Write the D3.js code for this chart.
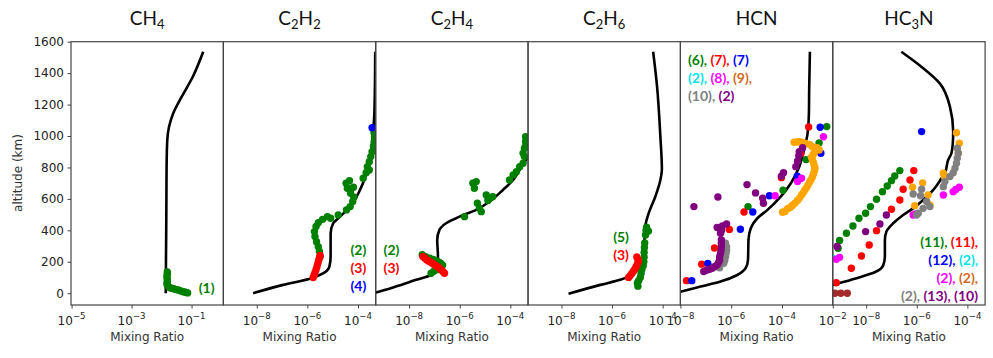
<!DOCTYPE html>
<html>
<head>
<meta charset="utf-8">
<script src="https://cdn.jsdelivr.net/npm/d3@7"></script>
<style>
  body { margin: 0; background: #fff; }
  svg { display: block; }
</style>
</head>
<body>
<svg id="chart" width="993" height="358"></svg>
<script>
// ---------- axis values ----------
const altLimits = [-75, 1600];
const altTicks = [0, 200, 400, 600, 800, 1000, 1200, 1400, 1600];
const ch4Limits = [10 ** -5.02, 10 ** 0.06];
const traceLimits = [10 ** -9.32, 10 ** -3.3];
const hcnLimits = [1e-8, 1e-2];
const ch4Ticks = [1e-5, 1e-3, 1e-1];
const traceTicks = [1e-8, 1e-6, 1e-4];
const hcnTicks = [1e-8, 1e-6, 1e-4, 1e-2];

// ---------- CH4 ----------  [mixing ratio, altitude km]
const ch4Model = [[0.0138,0],[0.0140,200],[0.0143,400],[0.0145,600],[0.0147,800],[0.0155,975],[0.0178,1060],[0.0245,1145],[0.047,1250],[0.11,1377],[0.245,1536]];
const ch4Obs1 = [[0.0155,135],[0.0155,120],[0.015,105],[0.0155,90],[0.0155,75],[0.015,60],[0.016,48],[0.018,38],[0.021,32],[0.025,28],[0.030,24],[0.036,20],[0.043,15],[0.050,11],[0.058,8],[0.066,5],[0.074,2]];

// ---------- C2H2 ----------
const c2h2Model = [[7.2e-9,0],[1.1e-7,53],[1.48e-6,95],[4.3e-6,127],[7.4e-6,169],[8.3e-6,233],[8.3e-6,382],[1.05e-5,445],[1.95e-5,487],[4.9e-5,551],[1.2e-4,657],[2.57e-4,805],[3.7e-4,975],[4.37e-4,1123],[4.57e-4,1229],[4.8e-4,1536]];
const c2h2Obs2 = [[3.2e-6,233],[3.0e-6,265],[2.7e-6,296],[2.3e-6,328],[2.0e-6,360],[1.9e-6,392],[2.2e-6,424],[2.7e-6,449],[4.0e-6,470],[6.2e-6,487],[8.3e-6,477],[1.66e-5,498],[3.5e-5,530],[4.9e-5,551],[6.2e-5,583],[6.9e-5,610],[5.1e-5,636],[3.8e-5,668],[3.4e-5,700],[4.6e-5,716],[6.6e-5,674],[1.6e-4,731],[2.1e-4,767],[2.8e-4,784],[2.35e-4,805],[2.8e-4,837],[3.2e-4,869],[3.6e-4,900],[4.1e-4,932],[4.4e-4,964],[4.5e-4,996],[4.3e-4,1020]];
const c2h2Obs3 = [[1.7e-6,100],[1.85e-6,115],[2.0e-6,130],[2.2e-6,150],[2.4e-6,170],[2.6e-6,190],[2.8e-6,210],[3.0e-6,225],[3.2e-6,240]];
const c2h2Obs4 = [[3.6e-4,1053]];

// ---------- C2H4 ----------
const c2h4Model = [[3.0e-10,-5],[4.9e-10,4],[3.0e-9,42],[1.9e-8,85],[7.4e-8,116],[1.38e-7,159],[1.38e-7,233],[1.29e-7,339],[1.58e-7,403],[2.9e-7,445],[9.8e-7,487],[4.5e-6,530],[1.5e-5,583],[5.1e-5,657],[1.29e-4,720],[2.3e-4,784],[5.0e-4,869],[7.9e-4,930]];
const c2h4Obs2 = [[3.3e-8,245],[4.5e-8,232],[6.5e-8,222],[9e-8,214],[1.2e-7,206],[1.5e-7,198],[1.8e-7,190],[2.1e-7,178],[7.4e-8,127],[9.5e-8,140],[1.3e-7,150],
  [1.55e-6,487],[3.3e-6,700],[4.5e-6,710],[3.8e-6,668],[5.0e-6,572],[6.0e-6,540],[7.1e-6,519],[1.12e-5,625],[1.5e-5,604],[2.0e-5,614],[1.3e-5,590],[9.3e-5,720],[1.29e-4,752],[1.74e-4,773],[2.34e-4,805],[3.2e-4,827],[3.6e-4,869],[3.2e-4,890],[3.6e-4,922],[4.1e-4,940],[4.0e-4,964],[4.0e-4,996]];
const c2h4Obs3 = [[3.5e-8,233],[4.2e-8,222],[5.0e-8,212],[6.0e-8,203],[7.5e-8,195],[9e-8,186],[1.1e-7,178],[1.35e-7,168],[1.6e-7,158],[1.9e-7,148],[2.2e-7,137],[2.5e-7,127]];

// ---------- C2H6 ----------
const c2h6Model = [[1.9e-8,-4],[3.4e-7,53],[2.1e-6,85],[5.2e-6,110],[1.12e-5,159],[1.78e-5,254],[2.04e-5,424],[2.8e-5,509],[5.1e-5,614],[8.1e-5,720],[9.3e-5,790],[8.1e-5,996],[6.0e-5,1314],[4.2e-5,1536]];
const c2h6Obs5 = [[1.05e-5,45],[1.0e-5,65],[1.12e-5,80],[1.3e-5,100],[1.4e-5,125],[1.5e-5,150],[1.7e-5,175],[1.8e-5,200],[1.85e-5,230],[1.85e-5,260],[1.9e-5,290],[1.95e-5,320],[2.1e-5,370],[2.2e-5,400],[2.3e-5,420],[2.75e-5,395]];
const c2h6Obs3 = [[4.5e-6,100],[5.2e-6,112],[6.0e-6,125],[7.0e-6,140],[8.0e-6,155],[9.0e-6,170],[1.0e-5,185],[1.1e-5,200],[1.05e-5,215],[9.5e-6,230]];

// ---------- HCN ----------
const hcnModel = [[5.6e-9,0],[1e-8,10],[6.2e-8,42],[3.8e-7,74],[1.74e-6,116],[3.7e-6,159],[4.6e-6,212],[4.8e-6,339],[5.9e-6,413],[1.07e-5,477],[2.7e-5,530],[8.9e-5,614],[2.24e-4,700],[4.8e-4,805],[7.4e-4,911],[1.02e-3,1017],[1.15e-3,1145],[1.18e-3,1300],[1.26e-3,1536]];
const hcnObs6 = [[4.6e-6,551],[1.1e-4,655],[8.9e-4,850],[2.9e-3,956],[5.8e-3,1060]];
const hcnObs7a = [[1.74e-8,80],[6.9e-8,185],[2.2e-7,288],[8.5e-7,405],[3.2e-6,517],[9.5e-5,735],[5.6e-4,888],[1.12e-3,1058]];
const hcnObs7b = [[2.8e-8,80],[1.2e-7,190],[2.3e-6,407],[7.1e-6,517],[3.2e-5,620],[4.0e-4,745],[3.4e-3,890],[3.2e-3,1056]];
const hcnObs8 = [[5.4e-5,620],[4.1e-4,710],[5.9e-4,731],[4.3e-3,995]];
const hcnObs9 = [[1.05e-4,515],[1.32e-4,520],[1.66e-4,537],[2.1e-4,545],[2.57e-4,558],[3.2e-4,572],[4.1e-4,590],[4.9e-4,605],[5.9e-4,625],[6.9e-4,640],[7.9e-4,657],[9.3e-4,672],[1.07e-3,689],[1.2e-3,705],[1.38e-3,720],[1.58e-3,740],[1.74e-3,759],[1.9e-3,777],[2.0e-3,795],[1.86e-3,812],[1.74e-3,831],[1.58e-3,848],[1.45e-3,865],[1.66e-3,880],[1.86e-3,894],[2.4e-3,925],[2.95e-3,911],[1.58e-3,932],[1.26e-3,945],[8.7e-4,953],[6.3e-4,960],[4.8e-4,964],[3.8e-4,962],[3.0e-4,960]];
const hcnObs10 = [[6.0e-7,318],[6.6e-7,295],[6.6e-7,275],[6.3e-7,255],[6.0e-7,233],[5.6e-7,210],[5.1e-7,191],[3.5e-7,162]];
const hcnObs2 = [[3.4e-8,551],[3.0e-7,612],[4.2e-6,691],[9.1e-6,638],[1.74e-5,604],[1.86e-5,572],[9.5e-5,745],[1.15e-4,767],[3.5e-4,805],[4.1e-4,840],[4.6e-4,875],[4.8e-4,901],[6.5e-4,925],
  [2.8e-7,418],[4.5e-7,428],[6.6e-7,440],[4.2e-7,400],[3.8e-7,381],[4.1e-7,339],[4.1e-7,318],[4.1e-7,297],[4.0e-7,275],[3.8e-7,254],[3.5e-7,232],[3.5e-7,212],[3.2e-7,195],[2.8e-7,180],[2.2e-7,168],[1.78e-7,159],[1.4e-7,152],[1.12e-7,148],[8.3e-8,138]];

// ---------- HC3N ----------
const hc3nModel = [[2.5e-10,40],[4.9e-10,53],[1.23e-9,71],[5.6e-9,102],[2.19e-8,133],[4.7e-8,176],[5.5e-8,233],[5.5e-8,339],[6.3e-8,392],[1.17e-7,445],[2.9e-7,498],[7.2e-7,540],[1.78e-6,593],[4.5e-6,657],[9.5e-6,731],[1.29e-5,763],[1.74e-5,848],[2.34e-5,890],[2.7e-5,975],[2.75e-5,1028],[2.04e-5,1187],[8.1e-6,1335],[1.51e-6,1441],[2.45e-7,1536]];
const hc3nObs11a = [[7.8e-10,286],[8.9e-10,335],[1.66e-9,381],[3.0e-9,428],[5.2e-9,477],[9.5e-9,509],[1.48e-8,551],[2.57e-8,598],[4.4e-8,646],[6.8e-8,682],[1.0e-7,716],[1.35e-7,746],[2.14e-7,780]];
const hc3nObs11b = [[6.6e-10,67],[2.6e-9,159],[6.5e-9,237],[1.32e-8,307],[2.57e-8,398],[1.0e-7,534],[2.14e-7,593],[2.9e-7,661],[5.4e-7,720],[7.6e-7,780]];
const hc3nObs12 = [[1.55e-6,1028]];
const hc3nObs2a = [[4.5e-10,225]];
const hc3nObs2b = [[6.6e-10,216],[8.9e-10,228],[7.2e-7,498],[8.9e-7,505],[1.12e-5,625],[2.75e-5,646],[3.5e-5,660],[4.8e-5,674]];
const hc3nObs2c = [[3.7e-5,1021],[4.8e-5,954],[4.4e-5,890],[1.12e-5,763],[1.26e-5,740],[6.8e-7,674],[1.7e-6,702],[2.8e-6,625],[3.3e-6,561],[8.3e-7,557]];
const hc3nObs2d = [[3.98e-5,922],[4.37e-5,890],[3.98e-5,859],[3.7e-5,827],[3.24e-5,795],[2.75e-5,767],[2.04e-5,742],[1.29e-5,710],[1.12e-5,678],[1.55e-6,661],[7.2e-7,631],[1.41e-6,620],[2.45e-6,583],[3.3e-6,551],[1.78e-6,540],[1.15e-6,509],[9.8e-7,498]];
const hc3nObs13 = [[7.1e-10,297],[9.5e-9,392],[3.5e-8,440],[6.3e-8,498]];
const hc3nObs10 = [[5.8e-10,0],[1.0e-9,0],[1.8e-9,0]];

// ---------- colours ----------
const C = {
  green: "#008000", red: "#ff0000", blue: "#0000ff", cyan: "#00e5ee",
  magenta: "#ff00ff", orange: "#ffa500", orangeText: "#d2691e",
  grey: "#808080", purple: "#800080", brown: "#a52a2a"
};

// ---------- panel table ----------
const panels = [
  { title: [["CH",0],["4",1]], xlim: ch4Limits, ticks: ch4Ticks, model: ch4Model,
    obs: [[ch4Obs1, C.green]],
    labels: { anchor: "middle", dx: 135.7, y0: 293, lines: [[["(1)", C.green]]] } },
  { title: [["C",0],["2",1],["H",0],["2",1]], xlim: traceLimits, ticks: traceTicks, model: c2h2Model,
    obs: [[c2h2Obs2, C.green],[c2h2Obs3, C.red],[c2h2Obs4, C.blue]],
    labels: { anchor: "middle", dx: 135, y0: 255, lines: [[["(2)", C.green]],[["(3)", C.red]],[["(4)", C.blue]]] } },
  { title: [["C",0],["2",1],["H",0],["4",1]], xlim: traceLimits, ticks: traceTicks, model: c2h4Model,
    obs: [[c2h4Obs2, C.green],[c2h4Obs3, C.red]],
    labels: { anchor: "middle", dx: 15.8, y0: 255, lines: [[["(2)", C.green]],[["(3)", C.red]]] } },
  { title: [["C",0],["2",1],["H",0],["6",1]], xlim: traceLimits, ticks: traceTicks, model: c2h6Model,
    obs: [[c2h6Obs5, C.green],[c2h6Obs3, C.red]],
    labels: { anchor: "middle", dx: 93, y0: 241.5, lines: [[["(5)", C.green]],[["(3)", C.red]]] } },
  { title: [["HCN",0]], xlim: hcnLimits, ticks: hcnTicks, model: hcnModel,
    obs: [[hcnObs6, C.green],[hcnObs7a, C.red],[hcnObs7b, C.blue],[hcnObs8, C.magenta],[hcnObs9, C.orange],[hcnObs10, C.grey],[hcnObs2, C.purple]],
    labels: { anchor: "start", dx: 7.6, y0: 65, lines: [
      [["(6), ", C.green],["(7), ", C.red],["(7)", C.blue]],
      [["(2), ", C.cyan],["(8), ", C.magenta],["(9),", C.orangeText]],
      [["(10), ", C.grey],["(2)", C.purple]] ] } },
  { title: [["HC",0],["3",1],["N",0]], xlim: traceLimits, ticks: traceTicks, model: hc3nModel,
    obs: [[hc3nObs11a, C.green],[hc3nObs11b, C.red],[hc3nObs12, C.blue],[hc3nObs2a, C.cyan],[hc3nObs2b, C.magenta],[hc3nObs2c, C.orange],[hc3nObs2d, C.grey],[hc3nObs13, C.purple],[hc3nObs10, C.brown]],
    labels: { anchor: "end", dx: 145.3, y0: 246.5, lines: [
      [["(11), ", C.green],["(11),", C.red]],
      [["(12), ", C.blue],["(2),", C.cyan]],
      [["(2), ", C.magenta],["(2),", C.orangeText]],
      [["(2), ", C.grey],["(13), ", C.purple],["(10)", C.purple]] ] } }
];

// ---------- layout ----------
const plotTop = 41.7, plotBottom = 305;
const left0 = 71, panelW = 152.35;
const spine = "#444";
const tickFont = "'DejaVu Sans', sans-serif";
const labelFont = "Lato, 'Open Sans', sans-serif";

const svg = d3.select("#chart");
const y = d3.scaleLinear().domain(altLimits).range([plotBottom, plotTop]);

function powerLabel(sel, v) {
  const e = Math.round(Math.log10(v));
  sel.append("tspan").text("10");
  sel.append("tspan").attr("dy", -6.5).attr("font-size", 8.6).text("\u2212" + Math.abs(e));
}

panels.forEach((p, i) => {
  const x0 = left0 + i * panelW;
  const x = d3.scaleLog().domain(p.xlim).range([x0, x0 + panelW]);
  const g = svg.append("g");

  const clipId = "clip" + i;
  svg.append("clipPath").attr("id", clipId)
    .append("rect").attr("x", x0).attr("y", plotTop).attr("width", panelW).attr("height", plotBottom - plotTop);
  const plot = g.append("g").attr("clip-path", `url(#${clipId})`);

  // model profile
  const line = d3.line().x(d => x(d[0])).y(d => y(d[1])).curve(d3.curveMonotoneY);
  plot.append("path").datum(p.model).attr("d", line)
    .attr("fill", "none").attr("stroke", "#000").attr("stroke-width", 2.6).attr("stroke-linejoin", "round");

  // observations
  p.obs.forEach(([data, col]) => {
    plot.append("g").selectAll("circle").data(data).join("circle")
      .attr("cx", d => x(d[0])).attr("cy", d => y(d[1])).attr("r", 3.7).attr("fill", col);
  });

  // x axis
  const ax = g.append("g").attr("transform", `translate(0,${plotBottom})`)
    .call(d3.axisBottom(x).tickValues(p.ticks).tickSize(3.5).tickFormat(""));
  ax.select(".domain").remove();
  ax.selectAll(".tick line").attr("stroke", spine).attr("stroke-width", 1);
  p.ticks.forEach(t => {
    g.append("text").attr("x", x(t)).attr("y", 325).attr("text-anchor", "middle")
      .attr("font-family", tickFont).attr("font-size", 12).attr("fill", "#222")
      .call(powerLabel, t);
  });
  g.append("text").attr("x", x0 + panelW / 2).attr("y", 341).attr("text-anchor", "middle")
    .attr("font-family", tickFont).attr("font-size", 12).attr("fill", "#333").text("Mixing Ratio");

  // title
  const tt = g.append("text").attr("x", x0 + panelW / 2).attr("y", 29).attr("text-anchor", "middle")
    .attr("font-family", labelFont).attr("font-size", 19).attr("fill", "#111");
  p.title.forEach(([s, sub]) => {
    if (sub) tt.append("tspan").attr("dy", 4.5).attr("font-size", 13).text(s);
    else tt.append("tspan").attr("dy", tt.selectAll("tspan").size() ? -4.5 : 0).text(s);
  });

  // reference labels
  p.labels.lines.forEach((parts, li) => {
    const t = g.append("text").attr("x", x0 + p.labels.dx).attr("y", p.labels.y0 + li * 18.2)
      .attr("text-anchor", p.labels.anchor).attr("font-family", labelFont)
      .attr("font-weight", "bold").attr("font-size", 14);
    parts.forEach(([s, col]) => t.append("tspan").attr("fill", col).text(s));
  });

  // frame
  g.append("rect").attr("x", x0).attr("y", plotTop).attr("width", panelW).attr("height", plotBottom - plotTop)
    .attr("fill", "none").attr("stroke", spine).attr("stroke-width", 1.2);
});

// y axis on the first panel
const ay = svg.append("g").attr("transform", `translate(${left0},0)`)
  .call(d3.axisLeft(y).tickValues(altTicks).tickSize(3.5).tickPadding(3.5).tickFormat(d3.format("d")));
ay.select(".domain").remove();
ay.selectAll(".tick line").attr("stroke", spine);
ay.selectAll(".tick text").attr("font-family", tickFont).attr("font-size", 12).attr("fill", "#222");

svg.append("text").attr("transform", "translate(22,173) rotate(-90)").attr("text-anchor", "middle")
  .attr("font-family", tickFont).attr("font-size", 12).attr("fill", "#333").text("altitude (km)");
</script>
</body>
</html>
